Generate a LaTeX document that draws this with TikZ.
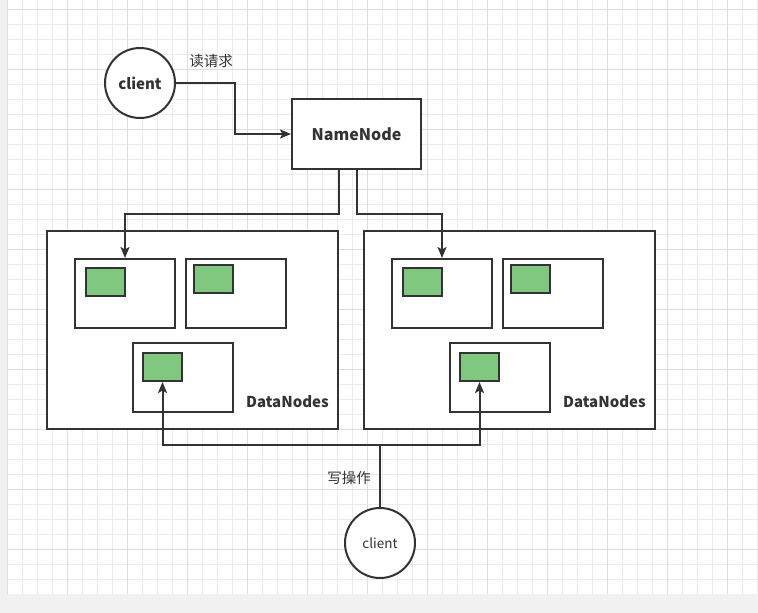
\documentclass[tikz,border=0pt]{standalone}
\usepackage{fontspec}
\setmainfont{Noto Sans CJK SC}
\usetikzlibrary{arrows.meta,positioning}
\definecolor{ink}{HTML}{333333}
\definecolor{leaf}{HTML}{80C880}
\definecolor{gridminor}{HTML}{EBEBEB}
\definecolor{gridmajor}{HTML}{DEDEDE}
\definecolor{pagegray}{HTML}{F1F1F1}

\tikzset{
  frame/.style={draw=ink,line width=2pt,fill=white,inner sep=0pt},
  namebox/.style={frame,minimum width=129pt,minimum height=70pt,
    font=\bfseries\fontsize{16}{18}\selectfont,text=ink},
  groupbox/.style={frame,minimum width=291pt,minimum height=198pt},
  slotbox/.style={frame,minimum width=100pt,minimum height=69pt},
  blockbox/.style={draw=ink,line width=2pt,fill=leaf,inner sep=0pt,
    minimum width=39pt,minimum height=28pt},
  clientnode/.style={frame,circle,minimum size=70pt,text=ink},
  tag/.style={text=ink,font=\fontsize{14.5}{16}\selectfont,inner sep=0pt},
  link/.style={draw=ink,line width=2pt,
    -{Stealth[length=11pt,width=9pt,inset=2.5pt]}}
}

\begin{document}
\begin{tikzpicture}[x=1pt,y=-1pt]
\useasboundingbox (0,0) rectangle (758,613);
% page and grid
\fill[pagegray] (0,0) rectangle (758,613);
\fill[white] (7.5,0) rectangle (758,594);
\foreach \x in {7.5,22.5,...,757.5}
  \draw[gridminor,line width=1pt] (\x,0) -- (\x,594);
\foreach \y in {9.3,24.3,...,585}
  \draw[gridminor,line width=1pt] (7.5,\y) -- (758,\y);
\foreach \x in {7.5,67.5,...,757.5}
  \draw[gridmajor,line width=1pt] (\x,0) -- (\x,594);
\foreach \y in {9.3,69.3,...,585}
  \draw[gridmajor,line width=1pt] (7.5,\y) -- (758,\y);

% read side
\node[clientnode,font=\bfseries\fontsize{15}{16}\selectfont] (c1) at (140,83) {client};
\node[tag] (readlbl) at (211,61) {读请求};
\node[namebox] (nn) at (356.5,134) {NameNode};

% two datanode groups
\foreach \side/\dx in {l/0,r/317}{
  \node[groupbox] (\side grp) at (192.5+\dx,330) {};
  \node[slotbox] (\side a) at (125+\dx,293.5) {};
  \node[slotbox] (\side b) at (236+\dx,293.5) {};
  \node[slotbox] (\side c) at (183+\dx,377.5) {};
  \node[blockbox] (\side ag) at (105.5+\dx,282) {};
  \node[blockbox] (\side bg) at (213.5+\dx,278.5) {};
  \node[blockbox] (\side cg) at (162.5+\dx,367) {};
  \node[tag,font=\bfseries\fontsize{15}{16}\selectfont,anchor=east]
    (\side lbl) at (329+\dx,402) {DataNodes};
}

% write side
\node[clientnode,font=\fontsize{13.5}{16}\selectfont] (c2) at (380,543) {client};
\node[tag] (writelbl) at (349,478) {写操作};

% connectors
\coordinate (k1) at (235,100);
\coordinate (bus) at (0,214);
\coordinate (wbus) at (0,445);
\draw[link] (c1.east) -| (k1) |- (nn.west);
\draw[link] ([xshift=-18pt]nn.south) -- ([xshift=-18pt]nn.south |- bus) -| (la.north);
\draw[link] (nn.south) -- (nn.south |- bus) -| (ra.north);
\draw[link] (c2.north) -- (c2.north |- wbus) -| (lcg.south);
\draw[link] (c2.north |- wbus) -| (rcg.south);
\end{tikzpicture}
\end{document}
